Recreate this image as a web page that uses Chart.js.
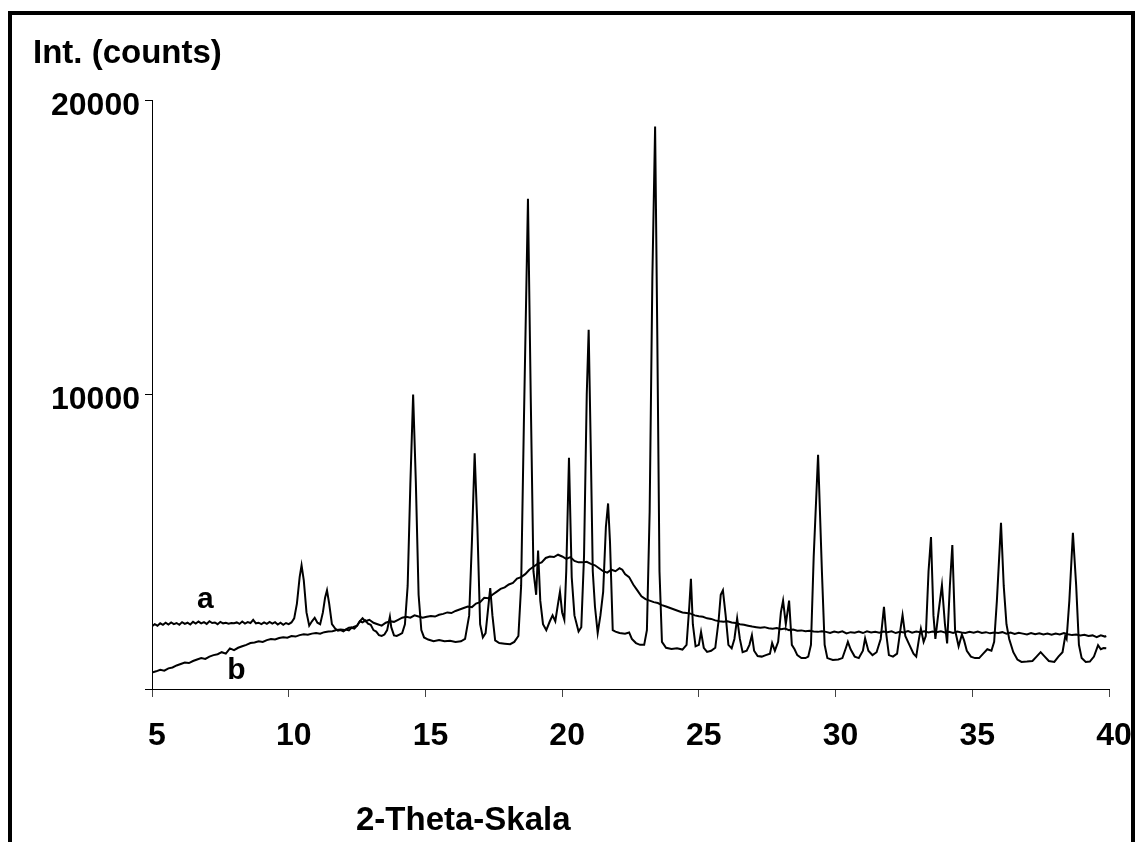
<!DOCTYPE html>
<html>
<head>
<meta charset="utf-8">
<script src="https://cdn.jsdelivr.net/npm/chart.js@4.4.1/dist/chart.umd.min.js"></script>
<style>
  html, body { margin: 0; padding: 0; background: #fff; width: 1138px; height: 842px; overflow: hidden; }
  #frame { position: absolute; left: 8px; top: 11px; width: 1119px; height: 900px; border: 4px solid #000; border-bottom: none; box-sizing: content-box; }
  #c { position: absolute; left: 0; top: 0; }
</style>
</head>
<body>
<div id="frame"></div>
<canvas id="c" width="1138" height="842"></canvas>
<script>
// ---- Data ----
const xTickValues = [5, 10, 15, 20, 25, 30, 35, 40];
const yTickValues = [0, 10000, 20000];
const seriesNames = ["a", "b"];

// Series a: crystalline pattern (sharp reflections)
const thetaA = [
  5.0,5.1,5.2,5.3,5.4,5.5,5.6,5.7,5.8,5.9,6.0,6.1,6.2,6.3,6.4,6.5,6.6,6.7,6.8,6.9,
  7.0,7.1,7.2,7.3,7.4,7.5,7.6,7.7,7.8,7.9,8.0,8.1,8.2,8.3,8.4,8.5,8.6,8.7,8.8,8.9,
  9.0,9.1,9.2,9.3,9.4,9.5,9.6,9.7,9.8,9.9,10.0,10.1,10.2,10.3,10.4,10.47,10.55,10.65,10.75,10.85,
  10.95,11.05,11.15,11.25,11.33,11.4,11.48,11.58,11.7,11.8,11.9,12.0,12.1,12.2,12.3,12.4,12.5,12.6,12.7,12.8,
  12.9,13.0,13.1,13.2,13.3,13.4,13.5,13.6,13.7,13.75,13.85,13.95,14.05,14.15,14.25,14.35,14.45,14.55,14.65,14.75,
  14.85,14.95,15.1,15.3,15.5,15.7,15.9,16.1,16.3,16.45,16.6,16.7,16.8,16.9,17.0,17.1,17.2,17.3,17.37,17.45,
  17.55,17.7,17.9,18.1,18.25,18.4,18.5,18.6,18.75,18.85,18.95,19.0,19.05,19.12,19.2,19.3,19.42,19.55,19.65,19.75,
  19.85,19.92,20.0,20.08,20.15,20.25,20.35,20.45,20.6,20.7,20.8,20.9,20.97,21.05,21.12,21.2,21.3,21.4,21.5,21.6,
  21.68,21.75,21.85,21.95,22.1,22.3,22.45,22.55,22.7,22.85,23.0,23.1,23.2,23.3,23.4,23.48,23.56,23.65,23.8,24.0,
  24.2,24.4,24.55,24.65,24.71,24.78,24.88,25.0,25.08,25.18,25.3,25.45,25.6,25.72,25.8,25.88,25.98,26.08,26.2,26.3,
  26.4,26.5,26.6,26.75,26.85,26.94,27.02,27.15,27.3,27.45,27.6,27.68,27.78,27.9,28.0,28.08,28.18,28.3,28.4,28.5,
  28.6,28.75,28.9,29.0,29.1,29.2,29.36,29.5,29.6,29.7,29.9,30.1,30.25,30.38,30.45,30.55,30.7,30.85,31.0,31.08,
  31.2,31.35,31.5,31.65,31.77,31.85,31.95,32.1,32.25,32.4,32.45,32.55,32.7,32.85,32.95,33.05,33.12,33.22,33.3,33.4,
  33.49,33.58,33.65,33.75,33.89,34.0,34.08,34.18,34.27,34.37,34.5,34.62,34.7,34.8,34.95,35.1,35.25,35.4,35.55,35.7,
  35.8,35.9,36.05,36.15,36.25,36.35,36.5,36.65,36.8,37.0,37.2,37.35,37.5,37.65,37.8,38.0,38.15,38.3,38.4,38.45,
  38.55,38.68,38.8,38.9,39.0,39.15,39.3,39.45,39.6,39.7,39.8,39.9
];
const intensityA = [
  2130,2200,2150,2230,2180,2250,2190,2260,2200,2240,2180,2270,2210,2250,2190,2280,2220,2290,2230,2270,
  2210,2300,2240,2260,2200,2280,2230,2250,2220,2240,2230,2260,2210,2290,2220,2270,2240,2350,2230,2250,
  2200,2260,2210,2280,2220,2270,2190,2250,2180,2240,2200,2260,2400,2900,3800,4200,3700,2600,2150,2300,
  2420,2250,2200,2600,3100,3350,2900,2200,2050,1980,2000,1960,2020,1990,2080,2050,2150,2300,2260,2330,
  2220,2180,2000,1950,1830,1800,1850,2000,2450,2100,1820,1800,1850,1900,2200,3500,7000,10000,7000,3200,
  2000,1750,1680,1620,1660,1620,1640,1600,1620,1700,2500,5000,8000,5500,2200,1750,1900,2800,3430,2500,
  1650,1560,1540,1520,1600,1800,3500,9000,16650,10000,4000,3600,3200,4700,3000,2200,2000,2300,2500,2300,
  2900,3300,2600,2350,4000,7850,3800,2500,1950,2100,4500,10000,12200,8000,4000,2800,1900,2500,3300,5500,
  6300,5000,2000,1950,1900,1880,1920,1700,1560,1500,1500,2000,6000,14000,19100,12000,4000,1600,1400,1360,
  1380,1340,1500,2800,3740,2200,1450,1500,1940,1400,1260,1300,1400,2300,3200,3350,2500,1500,1380,1700,
  2400,1700,1250,1300,1500,1830,1300,1120,1100,1150,1200,1560,1300,1600,2600,3000,2200,3000,1500,1350,
  1150,1050,1050,1100,1500,4500,7950,4000,1500,1050,985,1000,1050,1400,1600,1350,1100,1050,1300,1720,
  1300,1150,1250,1700,2790,1900,1150,1100,1200,2200,2510,1800,1500,1200,1100,1700,2050,1600,1800,4000,
  5160,2500,1700,2500,3530,2200,1550,3500,4890,2000,1450,1850,1650,1300,1100,1050,1050,1200,1350,1300,
  1600,3000,5640,3500,2200,1700,1250,1000,920,930,950,1100,1250,1100,950,920,1100,1250,1800,1700,
  3000,5300,3500,1500,1050,920,930,1100,1490,1350,1390,1380
];

// Series b: amorphous pattern (broad halo)
const thetaB = [
  5.0,5.15,5.3,5.45,5.6,5.75,5.9,6.05,6.2,6.35,6.5,6.65,6.8,6.95,7.1,7.25,7.4,7.55,7.7,7.85,
  8.0,8.15,8.3,8.45,8.6,8.75,8.9,9.05,9.2,9.35,9.5,9.65,9.8,9.95,10.1,10.25,10.4,10.55,10.7,10.85,
  11.0,11.15,11.3,11.45,11.6,11.75,11.9,12.05,12.2,12.35,12.5,12.6,12.7,12.8,12.95,13.1,13.25,13.4,13.55,13.7,
  13.85,14.0,14.15,14.3,14.45,14.6,14.75,14.9,15.05,15.2,15.35,15.5,15.65,15.8,15.95,16.1,16.25,16.4,16.55,16.7,
  16.85,17.0,17.15,17.3,17.45,17.6,17.75,17.9,18.05,18.2,18.35,18.5,18.65,18.8,18.95,19.1,19.25,19.4,19.55,19.7,
  19.85,20.0,20.15,20.3,20.45,20.6,20.75,20.9,21.05,21.2,21.35,21.5,21.65,21.8,21.95,22.1,22.2,22.3,22.45,22.6,
  22.75,22.9,23.05,23.2,23.35,23.5,23.65,23.8,23.95,24.1,24.25,24.4,24.55,24.7,24.85,25.0,25.15,25.3,25.45,25.6,
  25.75,25.9,26.05,26.2,26.35,26.5,26.65,26.8,26.95,27.1,27.25,27.4,27.55,27.7,27.85,28.0,28.15,28.3,28.45,28.6,
  28.75,28.9,29.05,29.2,29.35,29.5,29.65,29.8,29.95,30.1,30.25,30.4,30.55,30.7,30.85,31.0,31.15,31.3,31.45,31.6,
  31.75,31.9,32.05,32.2,32.35,32.5,32.65,32.8,32.95,33.1,33.25,33.4,33.55,33.7,33.85,34.0,34.15,34.3,34.45,34.6,
  34.75,34.9,35.05,35.2,35.35,35.5,35.65,35.8,35.95,36.1,36.25,36.4,36.55,36.7,36.85,37.0,37.15,37.3,37.45,37.6,
  37.75,37.9,38.05,38.2,38.35,38.5,38.65,38.8,38.95,39.1,39.25,39.4,39.55,39.7,39.85,39.9
];
const intensityB = [
  560,600,650,620,700,730,800,850,900,880,950,1000,1050,1020,1100,1150,1180,1250,1200,1380,
  1320,1400,1450,1500,1560,1580,1620,1600,1660,1700,1680,1730,1760,1740,1800,1780,1830,1860,1840,1880,
  1900,1880,1930,1950,1960,2000,2020,2000,2080,2100,2150,2300,2400,2300,2350,2250,2200,2150,2250,2300,
  2280,2350,2420,2450,2420,2500,2460,2420,2450,2480,2460,2520,2550,2600,2580,2650,2700,2750,2800,2780,
  2900,2950,3100,3080,3200,3300,3400,3450,3550,3600,3750,3800,3900,4050,4150,4250,4300,4450,4500,4480,
  4560,4500,4420,4480,4350,4300,4300,4320,4250,4200,4100,4000,3950,4050,4000,4100,4050,3900,3800,3550,
  3350,3150,3050,3000,2950,2920,2850,2800,2750,2700,2650,2600,2580,2560,2500,2470,2450,2400,2380,2330,
  2300,2280,2300,2260,2240,2200,2180,2150,2120,2100,2080,2100,2060,2050,2070,2030,2050,2000,2020,1980,
  1990,1960,1980,1950,1940,1960,1940,1900,1950,1920,1960,1890,1930,1910,1950,1900,1960,1920,1940,1910,
  1950,1930,1960,1900,1940,1920,1970,1910,1950,1930,1960,1920,1950,1930,1960,1920,1940,1900,1950,1920,
  1900,1940,1910,1950,1900,1930,1890,1920,1900,1930,1880,1920,1870,1910,1880,1850,1900,1860,1890,1850,
  1880,1840,1880,1850,1900,1860,1830,1850,1820,1840,1800,1820,1760,1820,1780,1800
];

// ---- Chart ----
const FONT = '"Liberation Sans", Arial, Helvetica, sans-serif';
const toPoints = (xs, ys) => xs.map((x, i) => ({ x: x, y: ys[i] }));

const textPlugin = {
  id: 'texts',
  afterDraw(chart) {
    const ctx = chart.ctx;
    const xs = chart.scales.x, ys = chart.scales.y;
    ctx.save();
    ctx.fillStyle = '#000';
    ctx.textBaseline = 'alphabetic';
    ctx.textAlign = 'left';
    ctx.font = 'bold 33px ' + FONT;
    ctx.fillText('Int. (counts)', 33, 63);
    ctx.fillText('2-Theta-Skala', 356, 830);
    ctx.font = 'bold 30px ' + FONT;
    ctx.fillText(seriesNames[0], xs.getPixelForValue(6.65), ys.getPixelForValue(2750));
    ctx.fillText(seriesNames[1], xs.getPixelForValue(7.75), ys.getPixelForValue(330));
    ctx.restore();
  }
};

new Chart(document.getElementById('c'), {
  type: 'line',
  data: {
    datasets: [
      { label: seriesNames[0], data: toPoints(thetaA, intensityA), borderColor: '#000', borderWidth: 2, pointRadius: 0, tension: 0, fill: false },
      { label: seriesNames[1], data: toPoints(thetaB, intensityB), borderColor: '#000', borderWidth: 2, pointRadius: 0, tension: 0, fill: false }
    ]
  },
  options: {
    responsive: false,
    animation: false,
    devicePixelRatio: 1,
    layout: { padding: { left: 0, top: 100, right: 29, bottom: 0 } },
    plugins: { legend: { display: false }, tooltip: { enabled: false }, title: { display: false } },
    scales: {
      x: {
        type: 'linear',
        min: xTickValues[0],
        max: xTickValues[xTickValues.length - 1],
        afterBuildTicks: (s) => { s.ticks = xTickValues.map(v => ({ value: v })); },
        afterFit: (s) => { s.height = 153; s.paddingLeft = 0; s.paddingRight = 0; },
        grid: { drawOnChartArea: false, drawTicks: true, tickLength: 8, color: '#444', tickWidth: 1 },
        border: { display: true, color: '#000', width: 1 },
        ticks: { color: '#000', font: { family: FONT, size: 32, weight: 'bold' }, padding: 20, labelOffset: 5, maxRotation: 0, autoSkip: false }
      },
      y: {
        type: 'linear',
        min: yTickValues[0],
        max: yTickValues[yTickValues.length - 1],
        afterBuildTicks: (s) => { s.ticks = yTickValues.map(v => ({ value: v })); },
        afterFit: (s) => { s.width = 152; s.paddingTop = 0; s.paddingBottom = 0; },
        grid: { drawOnChartArea: false, drawTicks: true, tickLength: 7, color: '#000', tickWidth: 1 },
        border: { display: true, color: '#000', width: 1 },
        ticks: { color: '#000', font: { family: FONT, size: 32, weight: 'bold' }, padding: 5, labelOffset: 6,
                 callback: (v) => (v === 0 ? '' : String(v)) }
      }
    }
  },
  plugins: [textPlugin]
});
</script>
</body>
</html>
